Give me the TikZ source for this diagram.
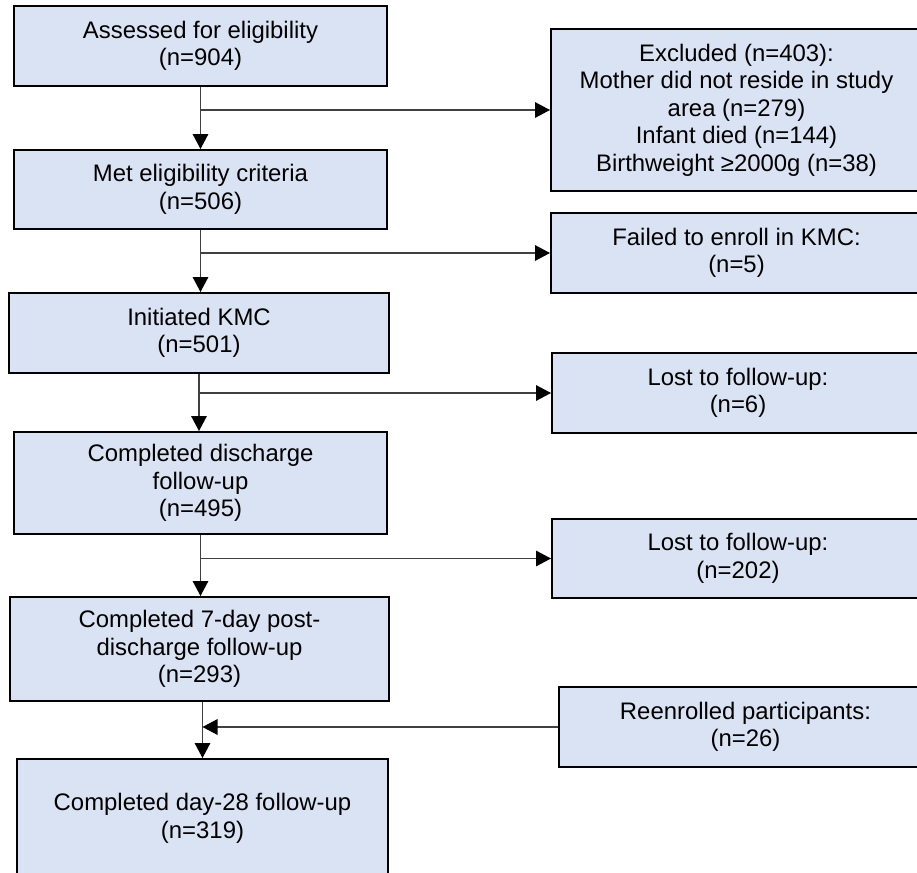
\documentclass[tikz,border=0pt]{standalone}
\usepackage{fontspec}
\setmainfont{Liberation Sans}
\usetikzlibrary{arrows.meta, positioning}
\definecolor{boxfill}{RGB}{218,227,243}
\definecolor{linegray}{RGB}{64,64,64}

\begin{document}
\begin{tikzpicture}[x=0.5pt, y=-0.5pt,
   box/.style={draw=black, line width=1pt, fill=boxfill, align=center, inner sep=0pt,
      font=\fontsize{11.95}{13.75}\selectfont},
   flow/.style={draw=linegray, line width=0.6pt,
      -{Triangle[length=7.5pt, width=7.8pt, color=black]}}]

   \path[use as bounding box] (0,0) rectangle (917,873);
   \clip (0,0) rectangle (917,873);

   % Main flow
   \node[box, minimum width=186.5pt, minimum height=40pt] (s1) at (200.5,46) {Assessed for eligibility\\(n=904)};
   \node[box, minimum width=186.5pt, minimum height=39.5pt] (s2) at (200.5,189.5) {Met eligibility criteria\\(n=506)};
   \node[box, minimum width=190pt, minimum height=40pt] (s3) at (199,333) {Initiated KMC\\(n=501)};
   \node[box, minimum width=186.5pt, minimum height=51pt] (s4) at (200.5,483) {Completed discharge\\follow-up\\(n=495)};
   \node[box, minimum width=189.5pt, minimum height=52pt] (s5) at (199.5,649) {Completed 7-day post-\\discharge follow-up\\(n=293)};
   \node[box, minimum width=185.5pt, minimum height=59.5pt] (s6) at (202.5,818.5) {Completed day-28 follow-up\\(n=319)};

   % Side boxes
   \node[box, minimum width=185.5pt, minimum height=81pt] (x1) at (736.5,110) {Excluded (n=403):\\Mother did not reside in study\\area (n=279)\\Infant died (n=144)\\Birthweight ≥2000g (n=38)};
   \node[box, minimum width=185.5pt, minimum height=40pt] (x2) at (736.5,253) {Failed to enroll in KMC:\\(n=5)};
   \node[box, minimum width=186pt, minimum height=40pt] (x3) at (738,393) {Lost to follow-up:\\(n=6)};
   \node[box, minimum width=186pt, minimum height=39.5pt] (x4) at (738,558.5) {Lost to follow-up:\\(n=202)};
   \node[box, minimum width=186.5pt, minimum height=40pt] (x5) at (745.5,727) {Reenrolled participants:\\(n=26)};

   % Down arrows
   \draw[flow] (s1.south) -- (s1.south |- s2.north);
   \draw[flow] (s2.south) -- (s2.south |- s3.north);
   \draw[flow] (s3.south) -- (s3.south |- s4.north);
   \draw[flow] (s4.south) -- (s4.south |- s5.north);
   \draw[flow] (s5.south -| s6.north) -- (s6.north);

   % Branches
   \draw[flow] (s1.south |- x1.west) -- (x1.west);
   \draw[flow] (s2.south |- x2.west) -- (x2.west);
   \draw[flow] (s3.south |- x3.west) -- (x3.west);
   \draw[flow] (s4.south |- x4.west) -- (x4.west);
   \draw[flow] (x5.west) -- (x5.west -| s6.north);

\end{tikzpicture}
\end{document}
